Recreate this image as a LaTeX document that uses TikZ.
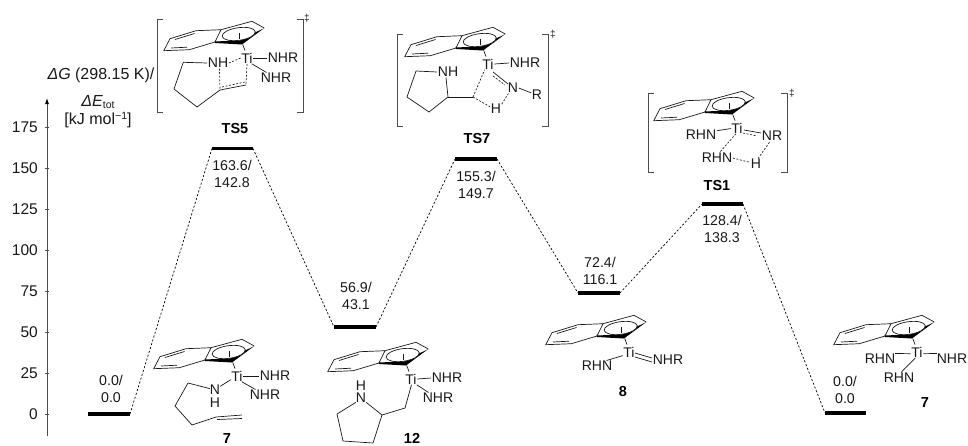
\documentclass[tikz,border=0pt]{standalone}
\usepackage{fontspec}
\setmainfont{Liberation Sans}
\usetikzlibrary{arrows.meta}
\tikzset{
  txt/.style={font=\fontsize{14}{17}\selectfont,inner sep=0.5pt,text=black!90,align=center},
  ttl/.style={font=\fontsize{16}{17}\selectfont,inner sep=0.5pt,text=black!90,align=center},
  lab/.style={font=\bfseries\fontsize{14.5}{17}\selectfont,inner sep=0pt,text=black},
  val/.style={font=\fontsize{14.2}{17}\selectfont,inner sep=0pt,text=black!90,align=center},
  tic/.style={font=\fontsize{15.5}{17}\selectfont,inner sep=0pt,anchor=east,text=black!90},
  bond/.style={line width=0.7pt,draw=black!90},
  dbond/.style={line width=0.7pt,draw=black!85,dash pattern=on 2pt off 1.6pt},
  level/.style={line width=3.2pt,draw=black},
  link/.style={line width=0.7pt,draw=black,dash pattern=on 2.1pt off 1.9pt},
  brk/.style={line width=0.8pt,draw=black!70},
  indenyl/.pic={
    \draw[bond,line join=round] (-32,-16)--(-26,-28.3)--(-51,-27.3)--(-77,-19.3)--(-83.3,-7.3)--(-57.7,-8.3)--cycle;
    \draw[bond] (-72,-18.5)--(-52.5,-24.5) (-76,-10)--(-60,-10.8);
    \draw[bond,line join=round] (-26,-28.3)--(5,-36.7)--(17.3,-30);
    \fill[black] (-32.5,-16.5)--(-8,-17.5)--(17.3,-30)--(-5,-13.5)--(-32,-15)--cycle;
    \draw[bond,fill=white] (-8.3,-24) ellipse [x radius=16.7pt,y radius=6.3pt,rotate=8];
    \draw[bond] (-7.7,-25.5)--(-7.7,-19);
    \draw[bond] (-4.3,-13.5)--(-2,-7.5);
  }
}
\begin{document}
\begin{tikzpicture}[x=1pt,y=-1pt]
\useasboundingbox (0,0) rectangle (968,445);
% axis
\coordinate (axb) at (47,436);
\coordinate (axt) at (47,98);
\draw[line width=0.8pt,draw=black!70,-{Latex[length=6pt,width=4pt,black]}] (axb)--(axt);
\foreach \v/\y in {0/414,25/373,50/332,75/291,100/250,125/209,150/168,175/127}{
  \node[tic] (t\v) at (38,\y) {\v};
  \draw[line width=0.7pt,draw=black!70] (45,\y)--(49,\y);
}
\node[ttl,anchor=east] (atitle1) at (155,75.5) {{\itshape Δ}{\itshape G} (298.15 K)/};
\node[ttl] (atitle2) at (98,102) {{\itshape Δ}{\itshape E}\raisebox{-2.5pt}{\fontsize{10.5}{10}\selectfont tot}};
\node[ttl] (atitle3) at (98,120) {[kJ mol\raisebox{5.5pt}{\fontsize{10.5}{10}\selectfont −1}]};
% levels
\foreach \n/\a/\b/\y in {A/88/130/414,B/212/253/148.5,C/334/376/327,D/455/497/159,E/578/620/293,F/702/743/204,G/825/866/413}{
  \coordinate (\n l) at (\a,\y);
  \coordinate (\n r) at (\b,\y);
  \draw[level] (\n l)--(\n r);
}
\draw[link] (Ar)--(Bl);
\draw[link] (Br)--(Cl);
\draw[link] (Cr)--(Dl);
\draw[link] (Dr)--(El);
\draw[link] (Er)--(Fl);
\draw[link] (Fr)--(Gl);
% values
\node[val] (vA) at (111,389) {0.0/\\0.0};
\node[val] (vB) at (232,174) {163.6/\\142.8};
\node[val] (vC) at (356,296) {56.9/\\43.1};
\node[val] (vD) at (476,185) {155.3/\\149.7};
\node[val] (vE) at (600,271) {72.4/\\116.1};
\node[val] (vF) at (722,229) {128.4/\\138.3};
\node[val] (vG) at (845,390) {0.0/\\0.0};

% TS5
\pic at (247,58) {indenyl};
\node[txt] (ti5) at (247,58) {Ti};
\node[txt] (a5) at (283,58) {NHR};
\node[txt] (b5) at (276,78) {NHR};
\node[txt] (n5) at (218,63) {NH};
\coordinate (c5a) at (183.3,62.3);
\coordinate (c5b) at (174,89);
\coordinate (c5c) at (197,107);
\coordinate (c5d) at (220,90);
\coordinate (c5e) at (246,85);
\coordinate (c5f) at (222,87);
\coordinate (c5g) at (245,82);
\draw[bond] (ti5.east)--(a5.west);
\draw[bond] (ti5.-50)--(b5.150);
\draw[bond,line join=round] (n5.west)--(c5a)--(c5b)--(c5c)--(c5d)--(c5e);
\draw[dbond] (c5f)--(c5g);
\draw[dbond] (n5.-75)--(c5d);
\draw[dbond] (ti5.south)--(c5e);
\draw[dbond] (n5.east)--(ti5.west);
\node[lab] (l5) at (235,129) {TS5};
\coordinate (b5a) at (163,19); \coordinate (b5b) at (157,19);
\coordinate (b5c) at (157,112); \coordinate (b5d) at (163,112);
\draw[brk] (b5a)--(b5b)--(b5c)--(b5d);
\coordinate (b5e) at (297,19); \coordinate (b5f) at (303,19);
\coordinate (b5g) at (303,112); \coordinate (b5h) at (297,112);
\draw[brk] (b5e)--(b5f)--(b5g)--(b5h);
\node[txt,font=\fontsize{10}{10}\selectfont] (d5) at (307,18) {‡};

% TS7
\pic at (488,64) {indenyl};
\node[txt] (ti7) at (488,64) {Ti};
\node[txt] (a7) at (525,63) {NHR};
\node[txt] (n7) at (513,88) {N};
\node[txt] (r7) at (537,95) {R};
\node[txt] (h7) at (496,109) {H};
\node[txt] (nh7) at (448,72) {NH};
\coordinate (c7a) at (416,71);
\coordinate (c7b) at (407,97);
\coordinate (c7c) at (429,112);
\coordinate (c7d) at (448,97);
\coordinate (c7e) at (473,97);
\coordinate (c7f) at (493,72);
\coordinate (c7g) at (508,84);
\coordinate (c7h) at (493,76);
\coordinate (c7i) at (505,85);
\draw[bond,line join=round] (nh7.west)--(c7a)--(c7b)--(c7c)--(c7d)--(nh7.-110);
\draw[bond] (c7d)--(c7e);
\draw[bond] (ti7.east)--(a7.west);
\draw[bond] (n7.east)--(r7.160);
\draw[bond] (c7f)--(c7g);
\draw[dbond] (c7h)--(c7i);
\draw[dbond] (c7e)--(ti7.-120);
\draw[dbond] (c7e)--(h7.160);
\draw[dbond] (h7.40)--(n7.-130);
\node[lab] (l7) at (477,139) {TS7};
\coordinate (b7a) at (403,34); \coordinate (b7b) at (397,34);
\coordinate (b7c) at (397,126); \coordinate (b7d) at (403,126);
\draw[brk] (b7a)--(b7b)--(b7c)--(b7d);
\coordinate (b7e) at (542,34); \coordinate (b7f) at (548,34);
\coordinate (b7g) at (548,126); \coordinate (b7h) at (542,126);
\draw[brk] (b7e)--(b7f)--(b7g)--(b7h);
\node[txt,font=\fontsize{10}{10}\selectfont] (d7) at (553,34) {‡};

% TS1
\pic at (737,128) {indenyl};
\node[txt] (ti1) at (737,128) {Ti};
\node[txt] (a1) at (701,135) {RHN};
\node[txt] (n1) at (772,136) {NR};
\node[txt] (b1) at (717,158) {RHN};
\node[txt] (h1) at (756,164) {H};
\coordinate (c1a) at (744,130);
\coordinate (c1b) at (761,133);
\coordinate (c1c) at (743,133);
\coordinate (c1d) at (757,136);
\draw[bond] (a1.15)--(ti1.185);
\draw[bond] (c1a)--(c1b);
\draw[dbond] (c1c)--(c1d);
\draw[dbond] (ti1.-100)--(b1.65);
\draw[dbond] (b1.east)--(h1.165);
\draw[dbond] (h1.70)--(n1.-110);
\node[lab] (l1) at (717,186) {TS1};
\coordinate (b1a) at (654,93); \coordinate (b1b) at (648,93);
\coordinate (b1c) at (648,172); \coordinate (b1d) at (654,172);
\draw[brk] (b1a)--(b1b)--(b1c)--(b1d);
\coordinate (b1e) at (781,93); \coordinate (b1f) at (787,93);
\coordinate (b1g) at (787,172); \coordinate (b1h) at (781,172);
\draw[brk] (b1e)--(b1f)--(b1g)--(b1h);
\node[txt,font=\fontsize{10}{10}\selectfont] (d1) at (792,93) {‡};

% 7 left
\pic at (237,376) {indenyl};
\node[txt] (ti7a) at (237,376) {Ti};
\node[txt] (a7a) at (275,376) {NHR};
\node[txt] (b7a2) at (265,395) {NHR};
\node[txt,inner sep=0pt] (n7a) at (215,390) {N};
\node[txt,inner sep=0pt] (h7a) at (215,403) {H};
\coordinate (c8a) at (188,383);
\coordinate (c8b) at (175,406);
\coordinate (c8c) at (192,425);
\coordinate (c8d) at (216,417);
\coordinate (c8e) at (242,415);
\coordinate (c8f) at (217,419.5);
\coordinate (c8g) at (242,418.5);
\draw[bond] (ti7a.east)--(a7a.west);
\draw[bond] (ti7a.-50)--(b7a2.150);
\draw[bond] (ti7a.-150)--(n7a.35);
\draw[bond,line join=round] (n7a.165)--(c8a)--(c8b)--(c8c)--(c8d)--(c8e);
\draw[bond] (c8f)--(c8g);
\node[lab] (l7a) at (227,438.5) {7};

% 12
\pic at (411,379) {indenyl};
\node[txt] (ti12) at (411,379) {Ti};
\node[txt] (a12) at (447,378) {NHR};
\node[txt] (b12) at (438,398) {NHR};
\node[txt,inner sep=0pt] (h12) at (361,385.5) {H};
\node[txt,inner sep=0pt] (n12) at (361,398) {N};
\coordinate (c9a) at (337,414);
\coordinate (c9b) at (343,441);
\coordinate (c9c) at (373,443);
\coordinate (c9d) at (382,415);
\coordinate (c9e) at (405,408);
\draw[bond,line join=round] (n12.-140)--(c9a)--(c9b)--(c9c)--(c9d)--(n12.-40);
\draw[bond,line join=round] (c9d)--(c9e)--(ti12.-85);
\draw[bond] (ti12.east)--(a12.west);
\draw[bond] (ti12.-45)--(b12.150);
\node[lab] (l12) at (412,438.5) {12};

% 8
\pic at (629,352) {indenyl};
\node[txt] (ti8) at (629,352) {Ti};
\node[txt] (a8) at (597,366) {RHN};
\node[txt] (b8) at (668,360) {NHR};
\coordinate (c8p) at (635,353);
\coordinate (c8q) at (652,358);
\coordinate (c8r) at (635,357);
\coordinate (c8s) at (652,362);
\draw[bond] (a8.30)--(ti8.-150);
\draw[bond] (c8p)--(c8q);
\draw[bond] (c8r)--(c8s);
\node[lab] (l8) at (623,391) {8};

% 7 right
\pic at (917,352) {indenyl};
\node[txt] (ti7r) at (917,352) {Ti};
\node[txt] (a7r) at (880,359) {RHN};
\node[txt] (b7r) at (952,359) {NHR};
\node[txt] (e7r) at (899,378) {RHN};
\draw[bond] (a7r.20)--(ti7r.195);
\draw[bond] (ti7r.-15)--(b7r.160);
\draw[bond] (ti7r.-105)--(e7r.70);
\node[lab] (l7r) at (925,403) {7};
\end{tikzpicture}
\end{document}
